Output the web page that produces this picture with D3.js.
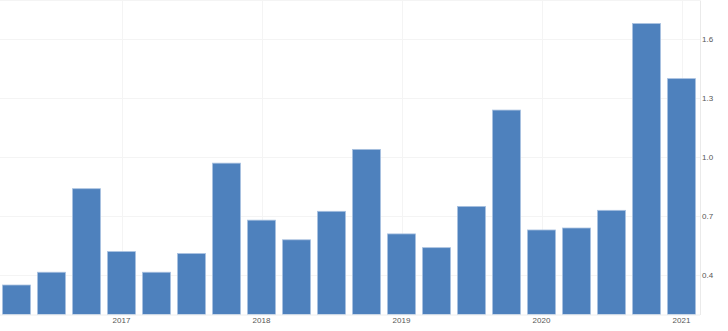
<!DOCTYPE html>
<html>
<head>
<meta charset="utf-8">
<script src="https://cdn.jsdelivr.net/npm/d3@7"></script>
<style>
  html, body { margin: 0; padding: 0; background: #fff; }
  svg { display: block; }
</style>
</head>
<body>
<div id="chart"></div>
<script>
const quarters = ["2016Q2","2016Q3","2016Q4","2017Q1","2017Q2","2017Q3","2017Q4","2018Q1","2018Q2","2018Q3","2018Q4","2019Q1","2019Q2","2019Q3","2019Q4","2020Q1","2020Q2","2020Q3","2020Q4","2021Q1"];
const values = [0.35,0.415,0.84,0.52,0.415,0.51,0.97,0.68,0.58,0.725,1.04,0.61,0.54,0.75,1.24,0.63,0.64,0.73,1.68,1.40];
const yTicks = [0.4,0.7,1.0,1.3,1.6];
const xTickQuarters = ["2017Q1","2018Q1","2019Q1","2020Q1","2021Q1"];
const xTickLabels = ["2017","2018","2019","2020","2021"];

const W = 728, H = 331;
const plotRight = 700, plotBottom = 314.5, plotTop = 0;

const svg = d3.select("#chart").append("svg").attr("width", W).attr("height", H);

const x = d3.scaleBand().domain(quarters).range([-1, 699]).paddingInner(0.2).paddingOuter(0.1);
const y = d3.scaleLinear().domain([0.2, 1.8]).range([plotBottom, plotTop]);

const gridColor = "#f4f4f4";

// horizontal grid
svg.append("g").selectAll("line").data(yTicks).join("line")
  .attr("x1", 0).attr("x2", plotRight)
  .attr("y1", d => Math.round(y(d)) + 0.5).attr("y2", d => Math.round(y(d)) + 0.5)
  .attr("stroke", gridColor).attr("stroke-width", 1);
svg.append("line").attr("x1", 0).attr("x2", plotRight).attr("y1", 0.5).attr("y2", 0.5)
  .attr("stroke", gridColor);

// vertical grid
svg.append("g").selectAll("line").data(xTickQuarters).join("line")
  .attr("x1", d => Math.round(x(d) + x.bandwidth() / 2) + 0.5)
  .attr("x2", d => Math.round(x(d) + x.bandwidth() / 2) + 0.5)
  .attr("y1", 0).attr("y2", plotBottom)
  .attr("stroke", gridColor);

// bars
svg.append("g").selectAll("rect").data(values).join("rect")
  .attr("x", (d, i) => x(quarters[i]))
  .attr("width", x.bandwidth())
  .attr("y", d => y(d))
  .attr("height", d => plotBottom - y(d))
  .attr("fill", "#4e81bd")
  .attr("stroke", "#a9c1e0")
  .attr("stroke-width", 0.8);

// right axis
const yAxis = d3.axisRight(y).tickValues(yTicks).tickFormat(d3.format(".1f")).tickSize(0).tickPadding(2);
const ga = svg.append("g").attr("transform", `translate(${plotRight},0)`).call(yAxis);
ga.select(".domain").attr("stroke", "#eaeaea");
ga.selectAll("text").attr("font-family", "Arial, 'Liberation Sans', sans-serif").attr("font-size", 8).attr("fill", "#555");

// bottom axis
const xAxis = d3.axisBottom(x).tickValues(xTickQuarters)
  .tickFormat(d => xTickLabels[xTickQuarters.indexOf(d)]).tickSize(0).tickPadding(3);
const gx = svg.append("g").attr("transform", `translate(0,${plotBottom})`).call(xAxis);
gx.select(".domain").attr("stroke", "#eeeeee").attr("d", `M0,0.5H${plotRight}`);
gx.selectAll("text").attr("font-family", "Arial, 'Liberation Sans', sans-serif").attr("font-size", 8).attr("fill", "#555");
</script>
</body>
</html>
